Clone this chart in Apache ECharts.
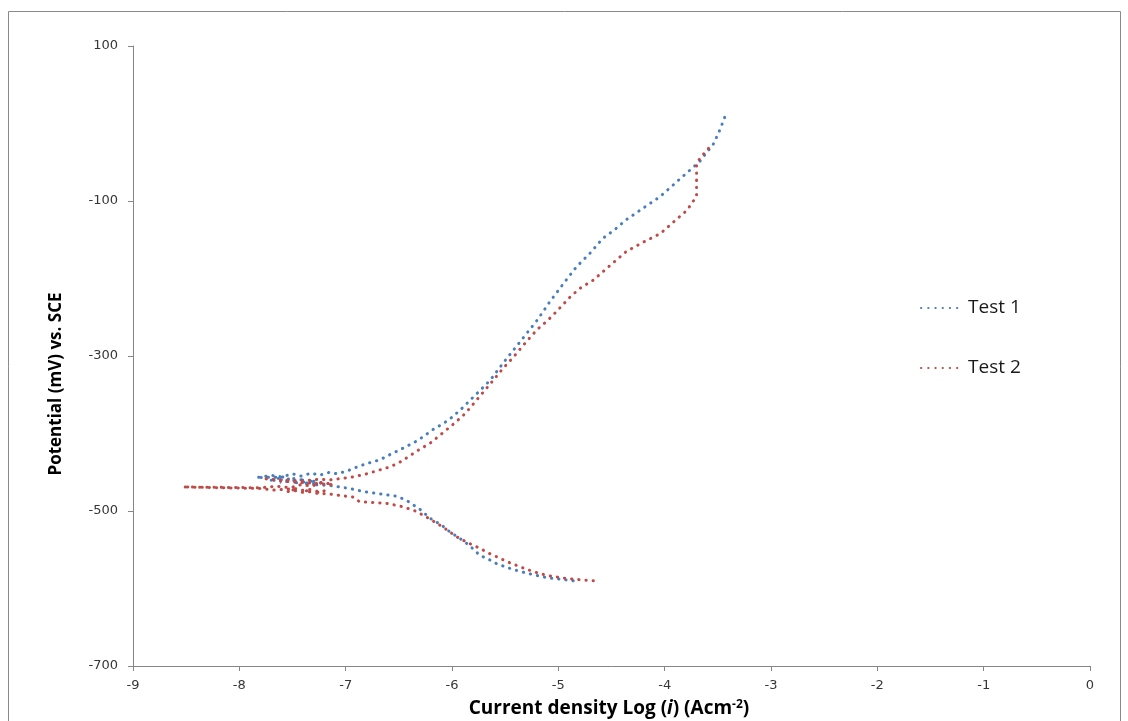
<!DOCTYPE html>
<html>
<head>
<meta charset="utf-8">
<script src="https://cdn.jsdelivr.net/npm/echarts@6/dist/echarts.min.js"></script>
<style>
html,body{margin:0;padding:0;background:#fff;}
#chart{width:1128px;height:721px;}
</style>
</head>
<body>
<div id="chart"></div>
<script>
// ---- Data (log current density vs potential, mV vs SCE) ----
const test1LogI = [
  -4.86,-4.98,-5.11,-5.24,-5.36,-5.48,-5.58,-5.66,-5.74,-5.80,-5.86,-5.94,-6.02,-6.10,-6.21,-6.30,-6.43,-6.52,-6.62,-6.72,-6.83,-6.96,-7.06,-7.15,
  -7.32,-7.20,-7.40,-7.28,-7.50,-7.38,-7.62,-7.48,-7.72,-7.58,-7.84,-7.70,-7.60,-7.50,-7.42,-7.32,-7.25,-7.15,-7.08,
  -6.98,-6.87,-6.78,-6.68,-6.58,-6.49,-6.42,-6.36,-6.27,-6.18,-6.08,-5.99,-5.91,-5.83,-5.74,-5.64,-5.53,-5.42,-5.31,-5.20,-5.08,-4.96,-4.83,-4.70,-4.58,-4.47,-4.36,-4.20,-4.04,-3.86,-3.67,-3.54,-3.48,-3.43
];
const test1Potential = [
  -590,-588,-586,-582,-578,-573,-568,-562,-557,-549,-542,-534,-527,-518,-509,-498,-486,-481,-479,-477,-475,-471,-469,-467,
  -466,-463,-465,-461,-464,-459,-463,-458,-461,-456,-457,-454,-456,-452,-455,-451,-454,-450,-452,
  -448,-442,-438,-434,-427,-421,-416,-412,-404,-395,-387,-378,-368,-357,-345,-331,-311,-292,-273,-254,-230,-208,-185,-167,-148,-137,-124,-109,-94,-72,-49,-26,-8,10
];
const test2LogI = [
  -4.67,-4.76,-4.86,-4.98,-5.11,-5.24,-5.36,-5.47,-5.58,-5.66,-5.74,-5.85,-5.96,-6.05,-6.14,-6.25,-6.36,-6.48,-6.62,-6.75,-6.87,-6.93,-7.05,-7.15,
  -7.30,-7.20,-7.42,-7.32,-7.55,-7.45,-7.68,-7.80,-8.53,-7.80,-7.65,-7.52,-7.42,-7.32,-7.22,-7.12,-7.55,-7.78,-7.60,-7.40,-7.25,-7.15,
  -6.93,-6.80,-6.68,-6.58,-6.49,-6.40,-6.30,-6.21,-6.13,-6.05,-5.97,-5.89,-5.83,-5.77,-5.69,-5.61,-5.52,-5.42,-5.31,-5.20,-5.10,-5.02,-4.89,-4.80,-4.67,-4.52,-4.36,-4.20,-4.04,-3.90,-3.79,-3.73,-3.70,-3.70,-3.70,-3.65,-3.60,-3.58
];
const test2Potential = [
  -590,-589,-588,-586,-583,-578,-572,-566,-559,-554,-548,-541,-533,-524,-516,-507,-499,-494,-490,-489,-488,-482,-480,-478,
  -477,-474,-476,-472,-475,-471,-473,-471,-469,-470,-468,-470,-466,-468,-463,-466,-462,-458,-460,-461,-459,-460,
  -456,-452,-447,-443,-437,-429,-420,-413,-404,-395,-386,-376,-367,-357,-344,-331,-316,-301,-283,-266,-254,-243,-224,-213,-202,-184,-165,-153,-142,-125,-112,-100,-94,-75,-51,-42,-34,-31
];
const seriesNames = ['Test 1', 'Test 2'];
const yTickValues = [-700, -500, -300, -100, 100];

const pairs = (xs, ys) => xs.map((x, i) => [x, ys[i]]);

const chart = echarts.init(document.getElementById('chart'), null, {renderer: 'canvas'});
const tickFont = {fontFamily: 'DejaVu Sans', fontSize: 13, color: '#363636'};
const axisGray = '#868686';
const dot = (c) => ({color: c, width: 3, type: [0.3, 6.9], cap: 'round'});

chart.setOption({
  animation: false,
  backgroundColor: '#fff',
  grid: {left: 133, right: 38, top: 46, bottom: 55, containLabel: false},
  xAxis: {
    type: 'value', min: -9, max: 0, interval: 1,
    axisLine: {show: true, onZero: false, lineStyle: {color: axisGray, width: 1}},
    axisTick: {show: true, length: 5, lineStyle: {color: axisGray}},
    axisLabel: Object.assign({margin: 13}, tickFont),
    splitLine: {show: false}
  },
  yAxis: {
    type: 'value', min: -700, max: 100,
    axisLine: {show: true, onZero: false, lineStyle: {color: axisGray, width: 1}},
    axisTick: {show: true, length: 5, lineStyle: {color: axisGray}, customValues: yTickValues},
    axisLabel: Object.assign({margin: 15, customValues: yTickValues}, tickFont),
    splitLine: {show: false}
  },
  legend: {
    orient: 'vertical', left: 915, top: 293, itemGap: 40,
    itemWidth: 42, itemHeight: 20,
    itemStyle: {opacity: 0},
    textStyle: {fontFamily: 'Open Sans', fontSize: 19, color: '#1a1a1a', lineHeight: 20},
    data: seriesNames
  },
  series: [
    {name: seriesNames[0], type: 'line', data: pairs(test1LogI, test1Potential), symbol: 'none', showSymbol: false,
     itemStyle: {color: '#4a7ebb'}, lineStyle: dot('#4a7ebb')},
    {name: seriesNames[1], type: 'line', data: pairs(test2LogI, test2Potential), symbol: 'none', showSymbol: false,
     itemStyle: {color: '#be4b48'}, lineStyle: dot('#be4b48')}
  ],
  graphic: [
    {type: 'rect', shape: {x: 8.5, y: 11.5, width: 1112, height: 740}, style: {fill: 'none', stroke: '#8a8a8a', lineWidth: 1}, silent: true},
    {type: 'text', x: 56, y: 384, rotation: Math.PI / 2,
     style: {text: 'Potential (mV) vs. SCE', fontFamily: 'Open Sans', fontWeight: 'bold', fontSize: 17, fill: '#000', align: 'center', verticalAlign: 'middle'}},
    {type: 'text', x: 609, y: 709,
     style: {
       text: '{b|Current density Log (}{bi|i}{b|) (Acm}{sup|-2}{b|)}',
       align: 'center', verticalAlign: 'middle',
       rich: {
         b: {fontFamily: 'Open Sans', fontWeight: 'bold', fontSize: 19, fill: '#000', lineHeight: 22},
         bi: {fontFamily: 'Open Sans', fontWeight: 'bold', fontStyle: 'italic', fontSize: 19, fill: '#000', lineHeight: 22},
         sup: {fontFamily: 'Open Sans', fontWeight: 'bold', fontSize: 12, fill: '#000', lineHeight: 22, padding: [0, 0, 9, 0]}
       }
     }}
  ]
});
</script>
</body>
</html>
